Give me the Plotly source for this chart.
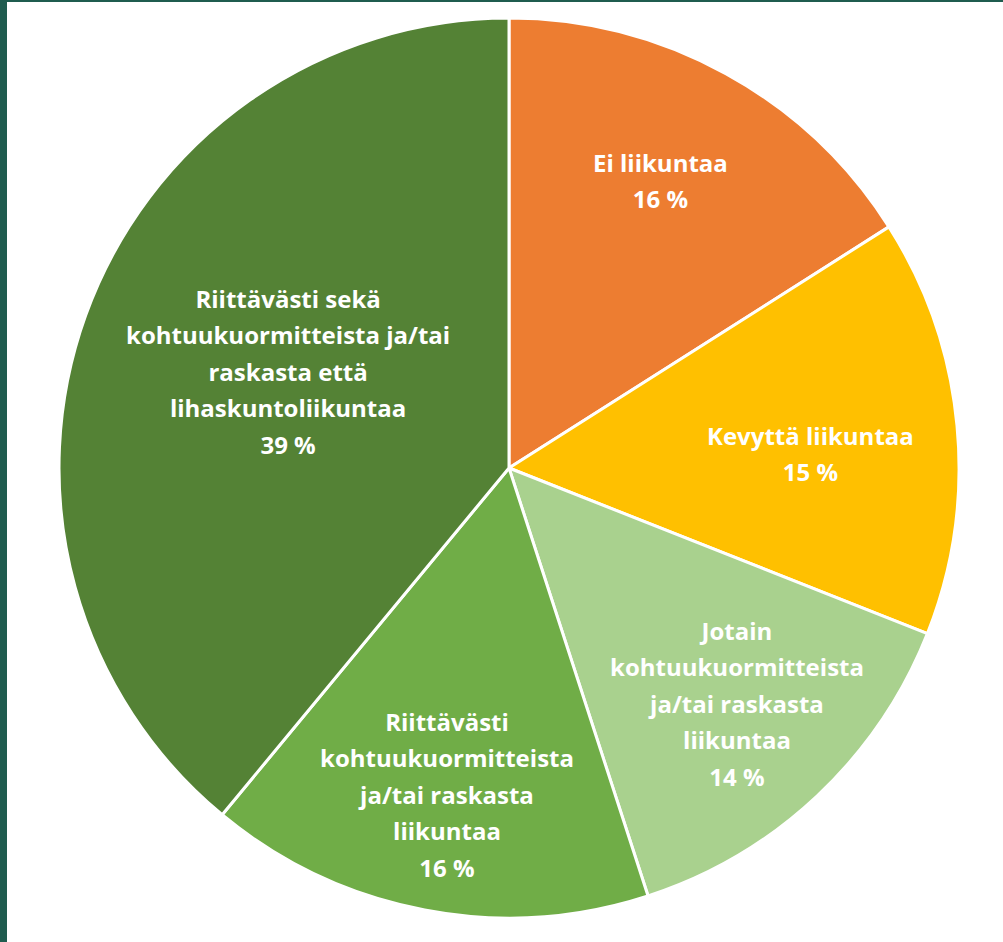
import math
import plotly.graph_objects as go

categories = [
    "Ei liikuntaa",
    "Kevyttä liikuntaa",
    "Jotain kohtuukuormitteista ja/tai raskasta liikuntaa",
    "Riittävästi kohtuukuormitteista ja/tai raskasta liikuntaa",
    "Riittävästi sekä kohtuukuormitteista ja/tai raskasta että lihaskuntoliikuntaa",
]
values = [16, 15, 14, 16, 39]
label_lines = [
    ["Ei liikuntaa"],
    ["Kevyttä liikuntaa"],
    ["Jotain", "kohtuukuormitteista", "ja/tai raskasta", "liikuntaa"],
    ["Riittävästi", "kohtuukuormitteista", "ja/tai raskasta", "liikuntaa"],
    ["Riittävästi sekä", "kohtuukuormitteista ja/tai", "raskasta että", "lihaskuntoliikuntaa"],
]
colors = ["#ED7D31", "#FFC000", "#A9D18E", "#70AD47", "#548235"]
# label placement: fraction of the pie radius and small angular nudge (degrees)
label_radius = [0.722, 0.671, 0.729, 0.739, 0.536]
label_angle_shift = [-1.0, 2.6, -0.8, 0.0, 3.8]

W, H = 1003, 942
cx, cy, R = 509, 468, 450
span_style = "font-size:24px"

fig = go.Figure(go.Pie(
    labels=categories,
    values=values,
    textinfo="none",
    sort=False,
    direction="clockwise",
    rotation=0,
    marker=dict(colors=colors, line=dict(color="white", width=3)),
    domain=dict(x=[(cx - R) / W, (cx + R) / W], y=[(H - cy - R) / H, (H - cy + R) / H]),
    showlegend=False,
    hoverinfo="label+percent",
))

annotations = []
total = sum(values)
cum = 0
for lines, v, fr, sh in zip(label_lines, values, label_radius, label_angle_shift):
    mid = (cum + v / 2) / total * 2 * math.pi + math.radians(sh)
    cum += v
    px = cx + fr * R * math.sin(mid)
    py = cy - fr * R * math.cos(mid)
    parts = lines + [f"{v} %"]
    txt = "<br>".join(f"<span style='{span_style}'><b>{p}</b></span>" for p in parts)
    annotations.append(dict(
        x=px / W, y=1 - py / H, xref="paper", yref="paper",
        text=txt, showarrow=False, xanchor="center", yanchor="middle",
        align="center", font=dict(family="Open Sans", size=28, color="white"),
    ))

fig.update_layout(
    width=W, height=H,
    margin=dict(l=0, r=0, t=0, b=0),
    paper_bgcolor="white",
    plot_bgcolor="white",
    annotations=annotations,
    shapes=[
        dict(type="rect", xref="paper", yref="paper", x0=0, x1=7 / W, y0=0, y1=1,
             fillcolor="#1F5C4F", line=dict(width=0), layer="above"),
        dict(type="rect", xref="paper", yref="paper", x0=0, x1=1, y0=1 - 2 / H, y1=1,
             fillcolor="#1F5C4F", line=dict(width=0), layer="above"),
    ],
)

fig.write_html(
    "out.html",
    config={"displayModeBar": False},
    post_script="document.body.style.margin='0';document.body.style.overflow='hidden';",
)
